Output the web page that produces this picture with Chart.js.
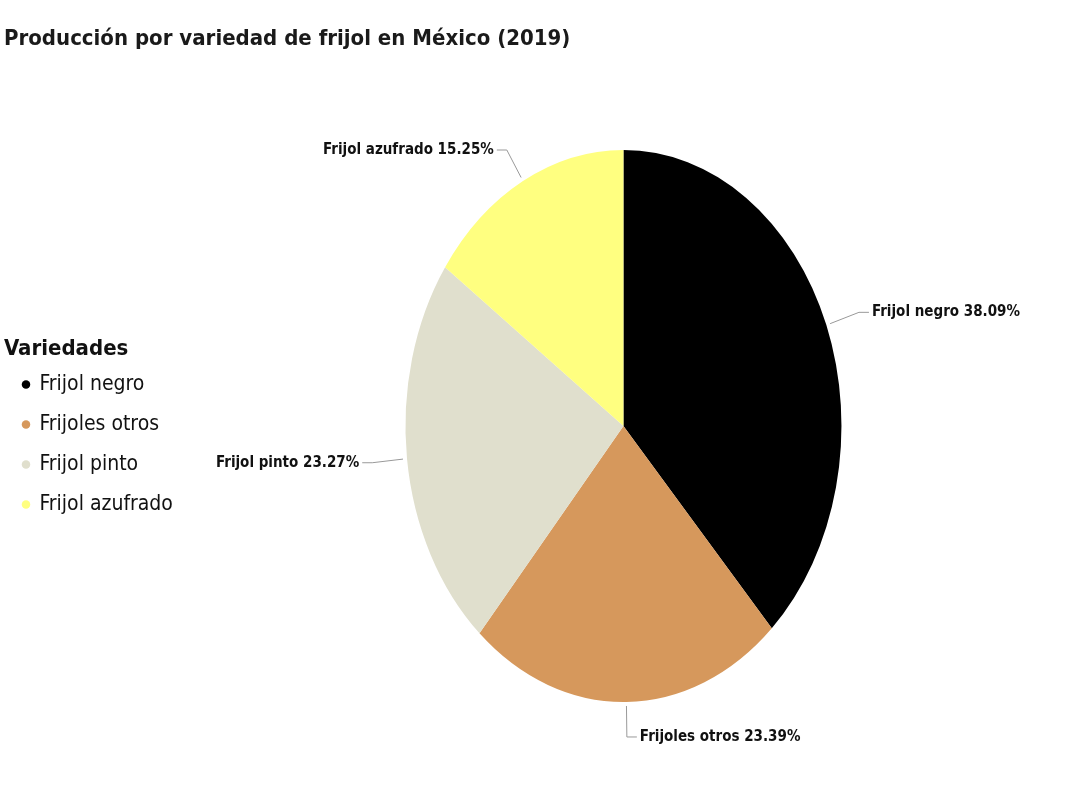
<!DOCTYPE html>
<html>
<head>
<meta charset="utf-8">
<script src="https://cdn.jsdelivr.net/npm/chart.js@4/dist/chart.umd.min.js"></script>
<style>
  body { margin: 0; background: #fff; }
  #wrap { width: 1080px; height: 797px; }
</style>
</head>
<body>
<div id="wrap"><canvas id="beanChart"></canvas></div>
<script>
var categories = ["Frijol negro", "Frijoles otros", "Frijol pinto", "Frijol azufrado"];
var shares = [38.09, 23.39, 23.27, 15.25];
var sliceColors = ["#000000", "#D6985C", "#E0DFCD", "#FFFF80"];

var FONT = "'Liberation Sans Narrow', 'Arial Narrow', 'DejaVu Sans Condensed', sans-serif";
var stretch = 276 / 218; // pie is drawn taller than wide

// squash the pie into an ellipse
var ellipsePlugin = {
  id: "ellipse",
  beforeDatasetsDraw: function(chart) {
    var arc = chart.getDatasetMeta(0).data[0];
    var ctx = chart.ctx;
    ctx.save();
    ctx.translate(arc.x, arc.y);
    ctx.scale(1, stretch);
    ctx.translate(-arc.x, -arc.y);
  },
  afterDatasetsDraw: function(chart) {
    chart.ctx.restore();
  }
};

// outside labels with leader lines
var labelPlugin = {
  id: "sliceLabels",
  afterDraw: function(chart) {
    var ctx = chart.ctx;
    var data = chart.data.datasets[0].data;
    chart.getDatasetMeta(0).data.forEach(function(arc, i) {
      var p = arc.getProps(["x", "y", "startAngle", "endAngle", "outerRadius"], true);
      var mid = (p.startAngle + p.endAngle) / 2;
      var c = Math.cos(mid), s = Math.sin(mid);
      var ex = p.x + c * (p.outerRadius + 4);
      var ey = p.y + s * (p.outerRadius * stretch + 4);
      var len = 31;
      var x1 = ex + c * len, y1 = ey + s * len;
      var right = c >= -0.001;
      var x2 = x1 + (right ? 10 : -10);

      ctx.save();
      ctx.strokeStyle = "#999999";
      ctx.lineWidth = 1;
      ctx.beginPath();
      ctx.moveTo(ex, ey);
      ctx.lineTo(x1, y1);
      ctx.lineTo(x2, y1);
      ctx.stroke();

      ctx.fillStyle = "#111111";
      ctx.font = "bold 15px " + FONT;
      ctx.textBaseline = "middle";
      ctx.textAlign = right ? "left" : "right";
      ctx.fillText(chart.data.labels[i] + " " + data[i].toFixed(2) + "%", x2 + (right ? 3 : -3), y1);
      ctx.restore();
    });
  }
};

var beanChart = new Chart(document.getElementById("beanChart"), {
  type: "pie",
  data: {
    labels: categories,
    datasets: [{
      data: shares,
      backgroundColor: sliceColors,
      borderWidth: 0
    }]
  },
  options: {
    responsive: true,
    maintainAspectRatio: false,
    animation: false,
    layout: {
      padding: { left: 4, right: 16, top: 0, bottom: 153 }
    },
    plugins: {
      tooltip: { enabled: false },
      title: {
        display: true,
        text: "Producción por variedad de frijol en México (2019)",
        align: "start",
        color: "#1a1a1a",
        font: { family: FONT, size: 22, weight: "bold" },
        padding: { top: 26, bottom: 155.6 }
      },
      legend: {
        position: "left",
        title: {
          display: true,
          text: "Variedades",
          position: "start",
          color: "#111111",
          font: { family: FONT, size: 22, weight: "bold", lineHeight: 0.75 },
          padding: { top: 228.5, bottom: 0 }
        },
        labels: {
          usePointStyle: true,
          pointStyle: "circle",
          boxWidth: 6,
          boxHeight: 6,
          padding: 19,
          color: "#111111",
          font: { family: FONT, size: 21 }
        }
      }
    }
  },
  plugins: [ellipsePlugin, labelPlugin]
});
</script>
</body>
</html>
